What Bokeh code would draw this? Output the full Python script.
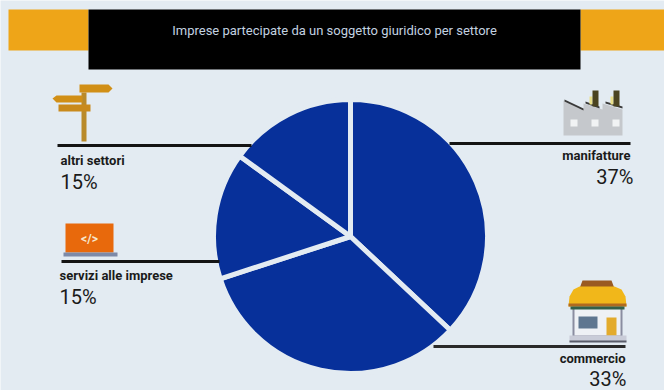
from math import pi

from bokeh.core.properties import value
from bokeh.embed import file_html
from bokeh.models import ColumnDataSource, Range1d
from bokeh.plotting import figure
from bokeh.resources import INLINE

# Share of companies by sector, clockwise from twelve o'clock
sectors = ["manifatture", "commercio", "servizi alle imprese", "altri settori"]
shares = [37, 33, 15, 15]
share_labels = [f"{s}%" for s in shares]
title_text = "Imprese partecipate da un soggetto giuridico per settore"

W, H = 664, 390
BG = "#e3ebf2"
BLUE = "#07309a"
AMBER = "#eea518"
INK = "#1a1a1a"
FONT = "Roboto"


def Y(py):
    """Convert a distance from the top of the page into a y coordinate."""
    return H - py


p = figure(width=W, height=H, output_backend="svg", toolbar_location=None,
           x_range=Range1d(0, W), y_range=Range1d(0, H), min_border=0)
p.axis.visible = False
p.grid.visible = False
p.outline_line_color = None
p.background_fill_color = BG
p.border_fill_color = BG


def box(x0, x1, y0, y1, color):
    p.quad(left=x0, right=x1, top=Y(y0), bottom=Y(y1), fill_color=color, line_color=None)


def poly(xs, ys, color):
    p.patch(xs, [Y(v) for v in ys], fill_color=color, line_color=None)


def rule(x0, x1, y, width=3, color="#141414"):
    p.line([x0, x1], [Y(y), Y(y)], line_color=color, line_width=width)


def label(x, y, text, size, align="left", color=INK, style="bold"):
    p.text([x], [Y(y)], text=[text], text_font_size=f"{size}px", text_align=align,
           text_baseline="middle", text_color=color, text_font_style=style,
           text_font=value(FONT))


# Header band
box(8, 88, 9, 50, AMBER)
box(580, 664, 9, 50, AMBER)
box(88, 580, 9, 69, "#000000")
label(334, 30, title_text, 13, "center", "#c3d2e0", "normal")

# Pie, built from the shares
total = sum(shares)
starts, ends, running = [], [], 0
for s in shares:
    starts.append(pi / 2 - 2 * pi * (running + s) / total)
    ends.append(pi / 2 - 2 * pi * running / total)
    running += s
pie = ColumnDataSource(dict(start=starts, end=ends, sector=sectors))
p.wedge(x=350, y=Y(236), radius=137, start_angle="start", end_angle="end", source=pie,
        fill_color=BLUE, line_color=BG, line_width=5)

# Leader lines run up to the rim of the pie
rule(57, 251, 145)
rule(449, 630, 143)
rule(61, 219, 261)
rule(433, 625, 346, 3, "#2a2a2a")

# Signpost icon
post = "#b98a2a"
box(81, 86, 92, 141, post)
poly([79, 108, 112, 108, 79], [84, 84, 88, 92, 92], "#d18f16")
poly([56, 82, 82, 56, 52], [95, 95, 102, 102, 98], "#d18f16")
poly([58, 90, 90, 58], [104, 104, 111, 111], "#c98a1c")

# Laptop icon
box(65, 113, 223, 252, "#e8690c")
box(63, 117, 252, 256, "#7d8aa8")
label(89, 238, "</>", 12, "center", "#f6e7cf")

# Factory icon: saw-tooth shed, slanted roofs and two chimneys
poly([563, 583, 583, 602, 602, 622, 622, 563],
     [100, 109, 103, 109, 103, 109, 135, 135], "#c5c8cc")
poly([564, 583, 583, 564], [99, 108, 110, 101], "#3a3a3a")
poly([585, 599, 599, 585], [101, 106, 108, 103], "#3a3a3a")
poly([605, 622, 622, 605], [101, 106, 108, 103], "#3a3a3a")
box(589, 592, 96, 104, "#e9e08a")
box(610, 613, 96, 104, "#e9e08a")
box(592, 598, 90, 106, "#4b4420")
box(613, 619, 90, 106, "#4b4420")
for wx in (570, 591, 612):
    box(wx, wx + 7, 119, 126, "#f1f3f4")

# Shop icon: building, base, roof and rounded awning
box(572, 622, 306, 336, "#8a8da0")
box(574, 620, 308, 335, "#eef1f5")
box(578, 597, 316, 328, "#5e7690")
box(606, 616, 317, 335, "#e3ab2c")
box(569, 626, 335, 341, "#c9ccd8")
box(569, 626, 340, 342, "#5a5d6a")
poly([582, 611, 614, 579], [280, 280, 288, 288], "#9a5a22")
poly([579, 614, 621, 625, 626, 568, 569, 573],
     [286, 286, 289, 296, 306, 306, 296, 289], "#f1b71a")
box(568, 626, 303, 306, "#b06a20")
box(570, 624, 306, 309, "#33604a")

# Sector labels and percentages
label(60, 160, sectors[3], 13)
label(60, 181, share_labels[3], 20, style="normal")
label(59, 275, sectors[2], 13)
label(59, 296, share_labels[2], 20, style="normal")
label(630, 155, sectors[0], 13, "right")
label(633, 176, share_labels[0], 20, "right", style="normal")
label(625, 358, sectors[1], 13, "right")
label(626, 378, share_labels[1], 20, "right", style="normal")

open("out.html", "w").write(file_html(p, INLINE))
